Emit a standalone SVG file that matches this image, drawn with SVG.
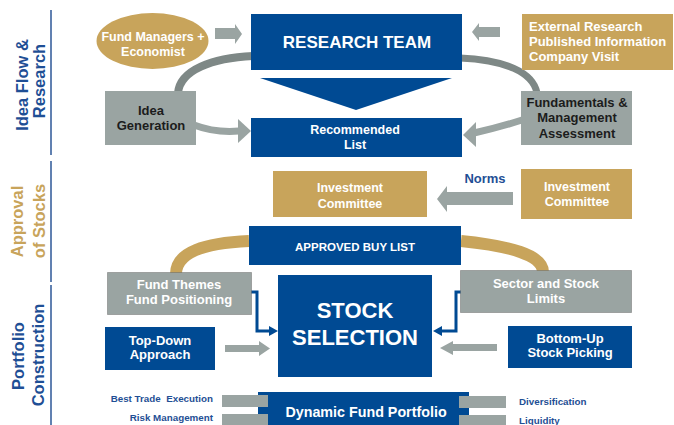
<svg xmlns="http://www.w3.org/2000/svg" width="674" height="425" viewBox="0 0 674 425">
<style>
text{font-family:"Liberation Sans",Arial,sans-serif;font-weight:bold}
.w{fill:#fff;text-anchor:middle}
.d{fill:#1c1c1c;text-anchor:middle}
.sec{font-size:16.5px;text-anchor:middle}
.blue{fill:#004a93}
.gold{fill:#c8a45b}
.gray{fill:#9aa4a2}
.arr{fill:#9aa4a2}
.lbl{fill:#1f4f95;font-size:9.8px;white-space:pre}
.f13{font-size:13px}
.f125{font-size:12.5px}
</style>
<rect width="674" height="425" fill="#fff"/>

<g id="section-labels">
  <line x1="51" y1="10" x2="51" y2="155" stroke="#2c5797" stroke-width="1.5"/>
  <line x1="51" y1="161" x2="51" y2="282" stroke="#2c5797" stroke-width="1.5"/>
  <line x1="51" y1="285" x2="51" y2="425" stroke="#2c5797" stroke-width="1.5"/>
  <text class="sec" fill="#1f4f95" transform="translate(28,85) rotate(-90)">Idea Flow &amp;</text>
  <text class="sec" fill="#1f4f95" transform="translate(45,81) rotate(-90)">Research</text>
  <text class="sec" fill="#c8a45b" transform="translate(23,221.5) rotate(-90)">Approval</text>
  <text class="sec" fill="#c8a45b" transform="translate(44.5,221) rotate(-90)">of Stocks</text>
  <text class="sec" fill="#1f4f95" transform="translate(24,356) rotate(-90)">Portfolio</text>
  <text class="sec" fill="#1f4f95" transform="translate(44,355) rotate(-90)">Construction</text>
</g>

<g id="connectors">
  <path d="M178,93 C180,70 212,58 253,56" fill="none" stroke="#7e8886" stroke-width="8"/>
  <path d="M460,58 C505,60 533,72 537,93" fill="none" stroke="#7e8886" stroke-width="7"/>
  <path d="M249,241 C205,243 176,252 176,274" fill="none" stroke="#c8a45b" stroke-width="12"/>
  <path d="M461,241 C510,246 543,255 543,272" fill="none" stroke="#c8a45b" stroke-width="12"/>
  <path d="M194,125 Q215,133 239,131" fill="none" stroke="#9aa4a2" stroke-width="7"/>
  <polygon class="arr" points="238,119 251,131 238,143"/>
  <path d="M522,120 Q497,128 474,133" fill="none" stroke="#9aa4a2" stroke-width="7"/>
  <polygon class="arr" points="476,122 463,135 476,147"/>
  <polygon class="arr" points="215,28 235,28 235,24 242,34 235,44 235,39 215,39"/>
  <polygon class="arr" points="500,27 479,27 479,23 472,32 479,41 479,37 500,37"/>
  <polygon class="arr" points="513,192 447,192 447,186 437,199 447,212 447,205 513,205"/>
  <polygon class="arr" points="225,345 259,345 259,341 270,348.5 259,356 259,352 225,352"/>
  <polygon class="arr" points="497,344 453,344 453,341 440,348 453,355 453,351 497,351"/>
  <polyline points="251,292 257,292 257,331 271,331" fill="none" stroke="#004a93" stroke-width="3"/>
  <polygon class="blue" points="269,326 278,331 269,336"/>
  <polyline points="461,292 456,292 456,331 441,331" fill="none" stroke="#004a93" stroke-width="3"/>
  <polygon class="blue" points="442,326 433,331 442,336"/>
  <polygon class="blue" points="260,78 452,78 356,110"/>
  <text x="485" y="183" fill="#1f4f95" class="f13" text-anchor="middle">Norms</text>
</g>

<g id="fund-managers">
  <ellipse cx="152.5" cy="41" rx="56" ry="28" class="gold"/>
  <text class="w f125" x="153" y="41">Fund Managers +</text>
  <text class="w f125" x="153" y="56">Economist</text>
</g>
<g id="research-team">
  <rect x="251" y="14" width="211" height="56" class="blue"/>
  <text class="w" x="357" y="48" font-size="17">RESEARCH TEAM</text>
</g>
<g id="external-research">
  <rect x="522" y="14" width="151" height="56" class="gold"/>
  <text fill="#fff" class="f13" x="529" y="31">External Research</text>
  <text fill="#fff" class="f13" x="529" y="46">Published Information</text>
  <text fill="#fff" class="f13" x="529" y="61">Company Visit</text>
</g>
<g id="idea-generation">
  <rect x="105" y="91" width="91" height="54" class="gray"/>
  <text class="d f13" x="151" y="115">Idea</text>
  <text class="d f13" x="151" y="130">Generation</text>
</g>
<g id="recommended-list">
  <rect x="251" y="118" width="211" height="39" class="blue"/>
  <text class="w f125" x="355" y="134">Recommended</text>
  <text class="w f125" x="355" y="149">List</text>
</g>
<g id="fundamentals">
  <rect x="521" y="91" width="111" height="54" class="gray"/>
  <text class="d f13" x="577" y="107">Fundamentals &amp;</text>
  <text class="d f13" x="577" y="122">Management</text>
  <text class="d f13" x="577" y="138">Assessment</text>
</g>
<g id="investment-committee-left">
  <rect x="273" y="171" width="154" height="46" class="gold"/>
  <text class="w f125" x="350" y="192">Investment</text>
  <text class="w f125" x="350" y="208">Committee</text>
</g>
<g id="investment-committee-right">
  <rect x="521" y="169" width="111" height="50" class="gold"/>
  <text class="w f125" x="577" y="191">Investment</text>
  <text class="w f125" x="577" y="206">Committee</text>
</g>
<g id="approved-buy-list">
  <rect x="249" y="226" width="212" height="39" class="blue"/>
  <text class="w" x="355" y="251" font-size="11.5">APPROVED BUY LIST</text>
</g>
<g id="fund-themes">
  <rect x="107.5" y="272.5" width="144" height="42" class="gray" stroke="#555" stroke-width="0.8" stroke-dasharray="1,1"/>
  <text class="w f13" x="179" y="289">Fund Themes</text>
  <text class="w f13" x="179" y="304">Fund Positioning</text>
</g>
<g id="sector-limits">
  <rect x="460.5" y="270.5" width="171" height="42" class="gray" stroke="#555" stroke-width="0.8" stroke-dasharray="1,1"/>
  <text class="w f13" x="546" y="288">Sector and Stock</text>
  <text class="w f13" x="546" y="303">Limits</text>
</g>
<g id="stock-selection">
  <rect x="278" y="275" width="154" height="102" class="blue"/>
  <text class="w" x="355" y="318" font-size="22">STOCK</text>
  <text class="w" x="355" y="345" font-size="22">SELECTION</text>
</g>
<g id="top-down">
  <rect x="105" y="327" width="110" height="43" class="blue"/>
  <text class="w f13" x="160" y="345">Top-Down</text>
  <text class="w f13" x="160" y="359">Approach</text>
</g>
<g id="bottom-up">
  <rect x="508" y="326" width="124" height="42" class="blue"/>
  <text class="w f13" x="570" y="343">Bottom-Up</text>
  <text class="w f13" x="570" y="357">Stock Picking</text>
</g>
<g id="dynamic-fund-portfolio">
  <rect x="258" y="392" width="211" height="40" class="blue"/>
  <rect x="222" y="395" width="46" height="12" class="gray"/>
  <rect x="222" y="414" width="46" height="12" class="gray"/>
  <rect x="459" y="396" width="47" height="12" class="gray"/>
  <rect x="459" y="415" width="47" height="12" class="gray"/>
  <text class="w" x="366" y="417" font-size="14.3">Dynamic Fund Portfolio</text>
  <text class="lbl" x="213" y="402" text-anchor="end">Best Trade  Execution</text>
  <text class="lbl" x="213" y="421" text-anchor="end">Risk Management</text>
  <text class="lbl" x="519" y="405">Diversification</text>
  <text class="lbl" x="519" y="424">Liquidity</text>
</g>
</svg>
